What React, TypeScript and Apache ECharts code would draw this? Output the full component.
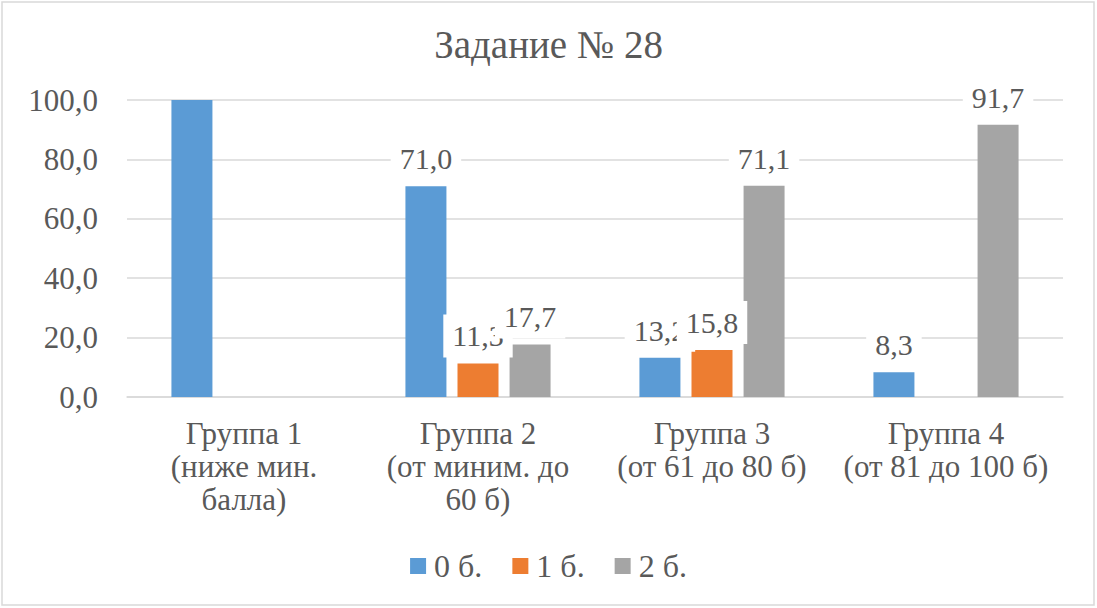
import React, { useEffect, useRef } from "react";
import * as echarts from "echarts";

const categories = [
  "Группа 1\n(ниже мин.\nбалла)",
  "Группа 2\n(от миним. до\n60 б)",
  "Группа 3\n(от 61 до 80 б)",
  "Группа 4\n(от 81 до 100 б)",
];
const seriesNames = ["0 б.", "1 б.", "2 б."];
const zeroPoints: (number | null)[] = [100.0, 71.0, 13.2, 8.3];
const onePoint: (number | null)[] = [null, 11.3, 15.8, null];
const twoPoints: (number | null)[] = [null, 17.7, 71.1, 91.7];
const zeroLabelShown = [false, true, true, true];
const yTicks = [0, 20, 40, 60, 80, 100];
const colors = ["#5B9BD5", "#ED7D31", "#A5A5A5"];

const FONT = "Liberation Serif";
const TEXT = "#595959";
const FS = 30;
const fmt = (v: number) => v.toFixed(1).replace(".", ",");

export default function App() {
  const ref = useRef<HTMLDivElement>(null);
  useEffect(() => {
    if (!ref.current) return;
    const chart = echarts.init(ref.current, null, { renderer: "svg" });
    const label = {
      show: true,
      position: "top",
      distance: 6,
      fontFamily: FONT,
      fontSize: FS,
      lineHeight: 33,
      color: TEXT,
      backgroundColor: "#FFFFFF",
      padding: [5, 9],
      formatter: (p: any) => fmt(p.value),
    };
    const mk = (name: string, vals: (number | null)[], color: string, shown?: boolean[]) => ({
      name,
      type: "bar",
      barWidth: 41,
      barGap: "27%",
      itemStyle: { color },
      label,
      data: vals.map((v, i) =>
        shown && !shown[i] ? { value: v, label: { show: false } } : v
      ),
    });
    chart.setOption({
      animation: false,
      backgroundColor: "#FFFFFF",
      textStyle: { fontFamily: FONT },
      title: {
        text: "Задание № 28",
        left: "center",
        top: 19,
        padding: 0,
        textStyle: {
          fontFamily: FONT,
          fontSize: 39,
          lineHeight: 50,
          fontWeight: "normal",
          color: TEXT,
        },
      },
      legend: {
        data: seriesNames,
        left: "center",
        top: 550,
        padding: 0,
        icon: "rect",
        itemWidth: 16,
        itemHeight: 16,
        itemGap: 30,
        textStyle: { fontFamily: FONT, fontSize: 32, lineHeight: 32, color: TEXT, padding: [0, 0, 0, 3] },
      },
      grid: { left: 127, right: 34, top: 100, bottom: 211, containLabel: false },
      xAxis: {
        type: "category",
        data: categories,
        axisLine: { show: true, lineStyle: { color: "#D9D9D9", width: 1.5 } },
        axisTick: { show: false },
        axisLabel: {
          interval: 0,
          margin: 20,
          fontFamily: FONT,
          fontSize: 31,
          lineHeight: 33,
          color: TEXT,
        },
      },
      yAxis: {
        type: "value",
        min: yTicks[0],
        max: yTicks[yTicks.length - 1],
        interval: yTicks[1] - yTicks[0],
        axisLine: { show: false },
        axisTick: { show: false },
        splitLine: { lineStyle: { color: "#D9D9D9", width: 1.5 } },
        axisLabel: {
          margin: 29,
          fontFamily: FONT,
          fontSize: 31,
          color: TEXT,
          formatter: (v: number) => fmt(v),
        },
      },
      graphic: [
        {
          type: "rect",
          shape: { x: 2, y: 2, width: 1092, height: 603 },
          style: { fill: "none", stroke: "#D9D9D9", lineWidth: 1.5 },
          silent: true,
        },
      ],
      series: [
        mk(seriesNames[0], zeroPoints, colors[0], zeroLabelShown),
        mk(seriesNames[1], onePoint, colors[1]),
        mk(seriesNames[2], twoPoints, colors[2]),
      ],
    });
    return () => chart.dispose();
  }, []);
  return (
    <div
      ref={ref}
      style={{ position: "absolute", left: 0, top: 0, width: 1097, height: 608 }}
    />
  );
}
